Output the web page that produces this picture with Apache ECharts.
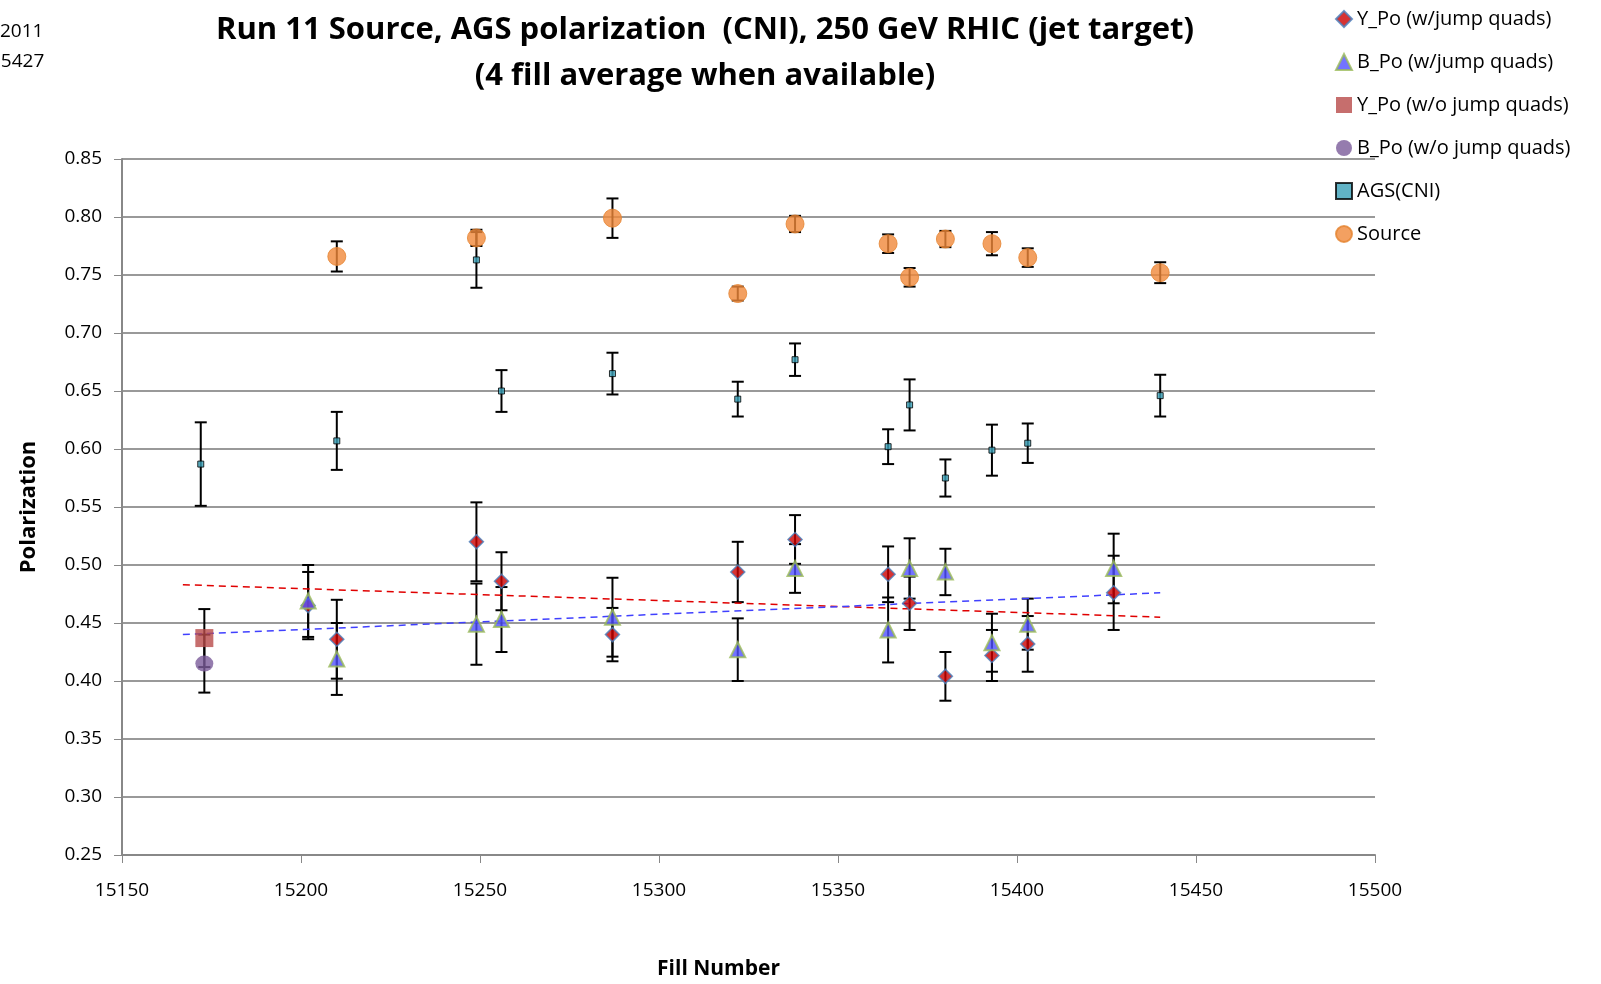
<!DOCTYPE html>
<html>
<head>
<meta charset="utf-8">
<script src="https://cdn.jsdelivr.net/npm/echarts@6/dist/echarts.min.js"></script>
<style>
  html, body { margin: 0; padding: 0; background: #fff; }
  #chart { width: 1601px; height: 984px; }
</style>
</head>
<body>
<div id="chart"></div>
<script>
// [fill number, polarization, error]
var yPoJump = [
  [15202, 0.465, 0.029], [15210, 0.436, 0.034], [15249, 0.520, 0.034],
  [15256, 0.486, 0.025], [15287, 0.440, 0.023], [15322, 0.494, 0.026],
  [15338, 0.522, 0.021], [15364, 0.492, 0.024], [15370, 0.467, 0.023],
  [15380, 0.404, 0.021], [15393, 0.422, 0.022], [15403, 0.432, 0.024],
  [15427, 0.476, 0.032]
];
var bPoJump = [
  [15202, 0.469, 0.031], [15210, 0.419, 0.031], [15249, 0.449, 0.035],
  [15256, 0.453, 0.028], [15287, 0.455, 0.034], [15322, 0.427, 0.027],
  [15338, 0.497, 0.021], [15364, 0.444, 0.028], [15370, 0.497, 0.026],
  [15380, 0.494, 0.020], [15393, 0.433, 0.025], [15403, 0.449, 0.022],
  [15427, 0.497, 0.030]
];
var yPoNoJump = [[15173, 0.437, 0.025]];
var bPoNoJump = [[15173, 0.415, 0.025]];
var agsCni = [
  [15172, 0.587, 0.036], [15210, 0.607, 0.025], [15249, 0.763, 0.024],
  [15256, 0.650, 0.018], [15287, 0.665, 0.018], [15322, 0.643, 0.015],
  [15338, 0.677, 0.014], [15364, 0.602, 0.015], [15370, 0.638, 0.022],
  [15380, 0.575, 0.016], [15393, 0.599, 0.022], [15403, 0.605, 0.017],
  [15440, 0.646, 0.018]
];
var source = [
  [15210, 0.766, 0.013], [15249, 0.782, 0.007], [15287, 0.799, 0.017],
  [15322, 0.734, 0.006], [15338, 0.794, 0.007], [15364, 0.777, 0.008],
  [15370, 0.748, 0.008], [15380, 0.781, 0.007], [15393, 0.777, 0.010],
  [15403, 0.765, 0.008], [15440, 0.752, 0.009]
];
// trend line end points
var yTrend = [[15167, 0.483], [15440, 0.455]];
var bTrend = [[15167, 0.440], [15440, 0.476]];

var xTicks = [15150, 15500, 50];
var yTicks = [0.25, 0.85, 0.05];

function errSeries(data, capW) {
  return {
    type: "custom",
    silent: true,
    z: 1,
    data: data,
    renderItem: function (params, api) {
      var x = api.value(0), v = api.value(1), e = api.value(2);
      var top = api.coord([x, v + e]);
      var bot = api.coord([x, v - e]);
      var st = { stroke: "#000", lineWidth: 2 };
      return {
        type: "group",
        children: [
          { type: "line", shape: { x1: top[0], y1: top[1], x2: bot[0], y2: bot[1] }, style: st },
          { type: "line", shape: { x1: top[0] - capW, y1: top[1], x2: top[0] + capW, y2: top[1] }, style: st },
          { type: "line", shape: { x1: bot[0] - capW, y1: bot[1], x2: bot[0] + capW, y2: bot[1] }, style: st }
        ]
      };
    }
  };
}

function pts(data) {
  return data.map(function (d) { return [d[0], d[1]]; });
}

var chart = echarts.init(document.getElementById("chart"));
var font = "Open Sans";
var option = {
  animation: false,
  textStyle: { fontFamily: font },
  title: {
    text: "Run 11 Source, AGS polarization  (CNI), 250 GeV RHIC (jet target)\n(4 fill average when available)",
    left: 700, top: 2, textAlign: "center",
    textStyle: { fontSize: 31, fontWeight: "bold", color: "#000", lineHeight: 46, fontFamily: font }
  },
  graphic: [
    { type: "text", left: 0, top: 22, style: { text: "2011", fontSize: 19, fill: "#000", fontFamily: font } },
    { type: "text", left: -10, top: 52, style: { text: "15427", fontSize: 19, fill: "#000", fontFamily: font } }
  ],
  legend: {
    orient: "vertical", left: 1330, top: 4, itemGap: 23, itemWidth: 16, itemHeight: 16,
    textStyle: { fontSize: 20, color: "#000", fontFamily: font },
    data: ["Y_Po (w/jump quads)", "B_Po (w/jump quads)", "Y_Po (w/o jump quads)",
           "B_Po (w/o jump quads)", "AGS(CNI)", "Source"]
  },
  grid: { left: 122, right: 226, top: 159, bottom: 129, containLabel: false, outerBoundsMode: "none" },
  xAxis: {
    type: "value", min: xTicks[0], max: xTicks[1], interval: xTicks[2],
    name: "Fill Number", nameLocation: "middle", nameGap: 104,
    nameTextStyle: { fontSize: 21, fontWeight: "bold", color: "#000", padding: [0, 60, 0, 0] },
    axisLine: { lineStyle: { color: "#888", width: 2 } },
    axisTick: { show: true, length: 8, lineStyle: { color: "#888" } },
    axisLabel: { fontSize: 19, color: "#000", margin: 26, formatter: function (v) { return String(v); } },
    splitLine: { show: false }
  },
  yAxis: {
    type: "value", min: yTicks[0], max: yTicks[1], interval: yTicks[2],
    name: "Polarization", nameLocation: "middle", nameGap: 82,
    nameTextStyle: { fontSize: 22, fontWeight: "bold", color: "#000" },
    axisLine: { show: true, lineStyle: { color: "#888", width: 2 } },
    axisTick: { show: true, length: 8, inside: false, lineStyle: { color: "#888" } },
    axisLabel: { fontSize: 19, color: "#000", margin: 20, formatter: function (v) { return v.toFixed(2); } },
    splitLine: { lineStyle: { color: "#999", width: 2 } }
  },
  series: [
    errSeries(yPoJump, 6), errSeries(bPoJump, 6), errSeries(yPoNoJump, 6),
    errSeries(bPoNoJump, 6), errSeries(agsCni, 6), errSeries(source, 6),
    {
      type: "line", data: yTrend, symbol: "none", silent: true, z: 2,
      lineStyle: { color: "#e00000", width: 1.5, type: [7, 5] }
    },
    {
      type: "line", data: bTrend, symbol: "none", silent: true, z: 2,
      lineStyle: { color: "#4040ff", width: 1.5, type: [7, 5] }
    },
    {
      name: "Source", type: "scatter", data: pts(source), symbol: "circle", symbolSize: 18, z: 5,
      itemStyle: { color: "#f0883a", borderColor: "#e58330", borderWidth: 1 }
    },
    {
      name: "AGS(CNI)", type: "scatter", data: pts(agsCni), symbol: "rect", symbolSize: [6, 6], z: 5,
      itemStyle: { color: "#3aa0b8", borderColor: "#000", borderWidth: 1 }
    },
    {
      name: "Y_Po (w/o jump quads)", type: "scatter", data: pts(yPoNoJump), symbol: "rect", symbolSize: 18, z: 5,
      itemStyle: { color: "#b84a48" }
    },
    {
      name: "B_Po (w/o jump quads)", type: "scatter", data: pts(bPoNoJump), symbol: "circle", symbolSize: [18, 16], z: 5,
      itemStyle: { color: "#7a5b9a" }
    },
    {
      name: "Y_Po (w/jump quads)", type: "scatter", data: pts(yPoJump), symbol: "diamond", symbolSize: 14, z: 6,
      itemStyle: { color: "#cc0000", borderColor: "#4a7ebb", borderWidth: 1.5 }
    },
    {
      name: "B_Po (w/jump quads)", type: "scatter", data: pts(bPoJump), symbol: "triangle", symbolSize: 15, z: 7,
      itemStyle: { color: "#5050ff", borderColor: "#9bbb59", borderWidth: 2 }
    }
  ]
};
chart.setOption(option);
</script>
</body>
</html>
